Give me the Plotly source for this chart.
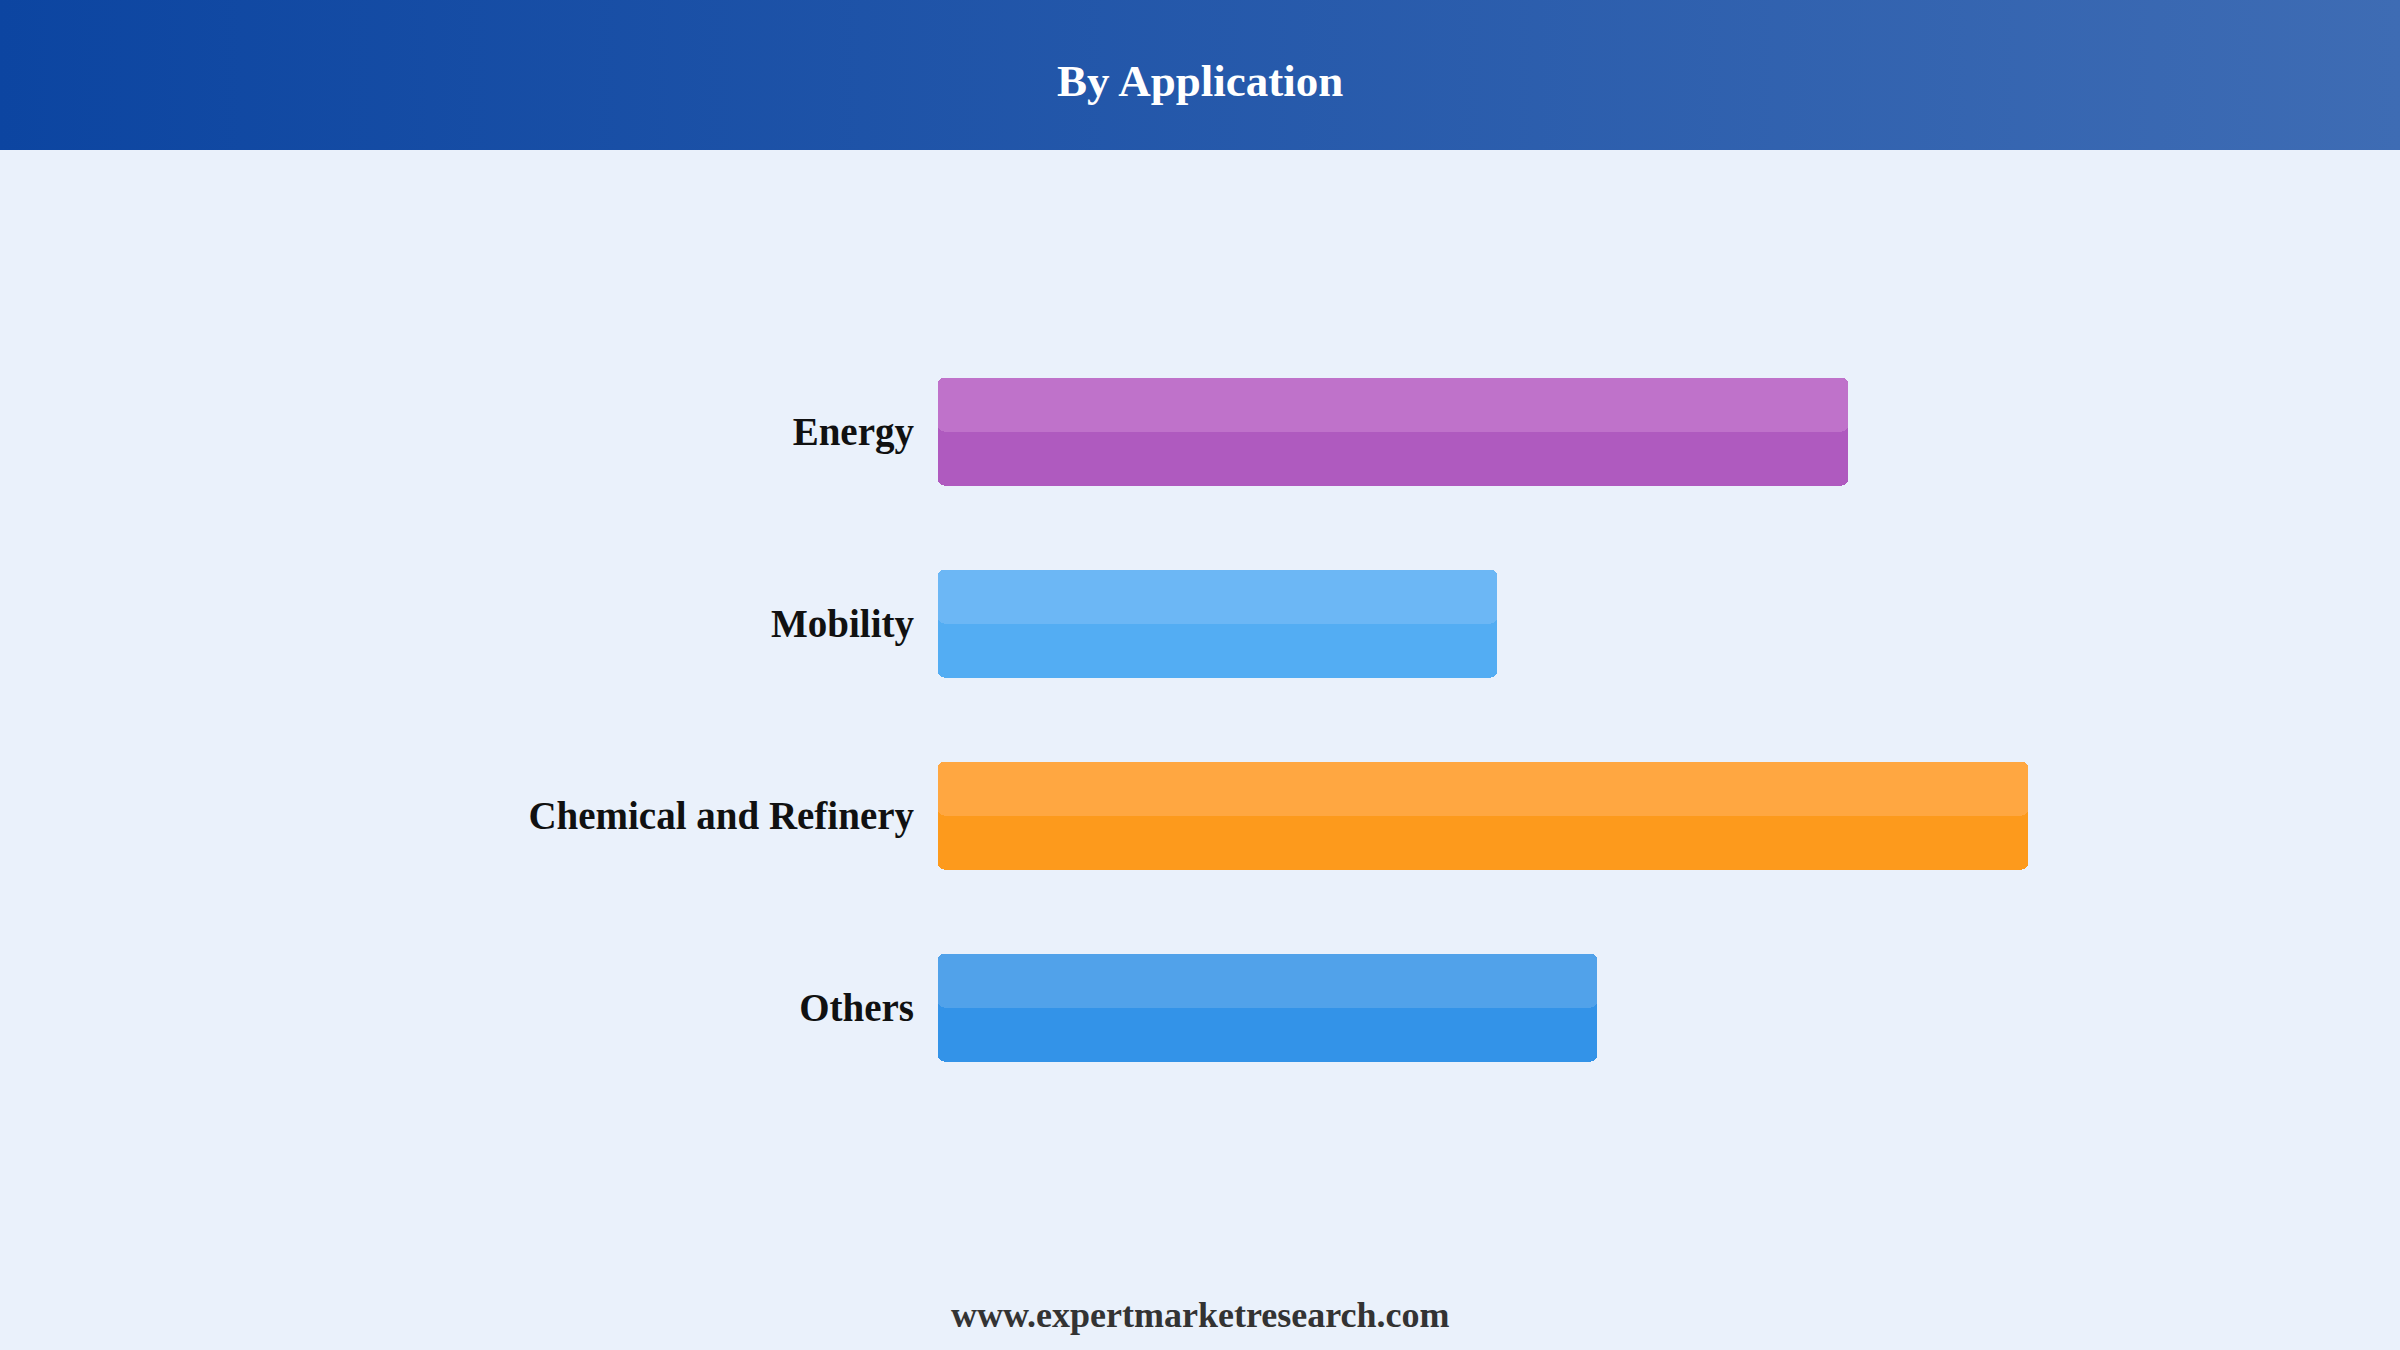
import base64
import plotly.graph_objects as go

# ---- data ----
categories = ["Energy", "Mobility", "Chemical and Refinery", "Others"]
values = [28.3, 17.4, 33.9, 20.5]
colors_dark = ["#af5abf", "#53adf3", "#fd9a1c", "#3393e8"]
colors_light = ["#bf72ca", "#6cb7f5", "#ffa741", "#51a2ea"]

title_text = "By Application"
footer_text = "www.expertmarketresearch.com"

W, H = 2400, 1350
HEADER_H = 150
BG = "#eaf1fb"
FONT = "Liberation Serif"

bar_w = 0.558
CR = 6          # corner radius in px
EPS = 1e-6

fig = go.Figure()


def add_bar(colors, width, offset, hover):
    fig.add_trace(go.Bar(
        y=categories, x=[v - EPS for v in values], base=EPS,
        orientation="h", width=width, offset=offset,
        marker=dict(color=colors, cornerradius=CR, line=dict(width=0)),
        customdata=values,
        hovertemplate="%{y}: %{customdata}<extra></extra>" if hover else None,
        hoverinfo=None if hover else "skip", showlegend=False,
    ))


add_bar(colors_dark, bar_w, -bar_w / 2, True)
add_bar(colors_light, bar_w / 2, -bar_w / 2, False)

# header gradient as an SVG background image
svg = (
    f'<svg xmlns="http://www.w3.org/2000/svg" width="{W}" height="{HEADER_H}" '
    f'viewBox="0 0 {W} {HEADER_H}" preserveAspectRatio="none">'
    '<defs><linearGradient id="g" x1="0" y1="0" x2="1" y2="0">'
    '<stop offset="0" stop-color="#0c45a1"/>'
    '<stop offset="1" stop-color="#3e6cb4"/>'
    '</linearGradient></defs>'
    f'<rect x="0" y="0" width="{W}" height="{HEADER_H}" fill="url(#g)"/></svg>'
)
svg_uri = "data:image/svg+xml;base64," + base64.b64encode(svg.encode()).decode()

x0_px = 938
px_per_unit = 32.15
x_dom0 = x0_px / W
x_range_max = (W - x0_px) / px_per_unit

pitch = 192.0
top_px = 431.6 - pitch / 2
bot_px = top_px + 4 * pitch

fig.update_layout(
    width=W, height=H,
    margin=dict(l=0, r=0, t=0, b=0),
    paper_bgcolor=BG, plot_bgcolor=BG,
    barmode="overlay",
    bargap=0,
    xaxis=dict(domain=[x_dom0, 1.0], range=[0, x_range_max], visible=False,
               fixedrange=True),
    yaxis=dict(domain=[1 - bot_px / H, 1 - top_px / H],
               range=[3.5, -0.5], showgrid=False, zeroline=False,
               showline=False, ticks="", ticklabelstandoff=23,
               tickfont=dict(family=FONT, size=39, color="#111111", weight="bold"),
               fixedrange=True),
    images=[dict(source=svg_uri, xref="paper", yref="paper", x=0, y=1,
                 sizex=1, sizey=HEADER_H / H, sizing="stretch",
                 xanchor="left", yanchor="top", layer="below")],
    annotations=[
        dict(text=title_text, xref="paper", yref="paper", x=0.5, y=1 - 81 / H,
             xanchor="center", yanchor="middle", showarrow=False,
             font=dict(family=FONT, size=45, color="white", weight="bold")),
        dict(text=footer_text, xref="paper", yref="paper", x=0.5, y=1 - 1315 / H,
             xanchor="center", yanchor="middle", showarrow=False,
             font=dict(family=FONT, size=36, color="#333333", weight="bold")),
    ],
)

fig.write_html(
    "out.html",
    config={"displayModeBar": False},
    post_script="document.body.style.margin='0';"
                f"document.body.style.background='{BG}';",
)
